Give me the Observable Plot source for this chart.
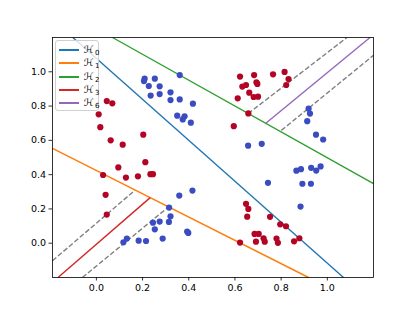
<!DOCTYPE html>
<html>
<head>
<meta charset="utf-8">
<script src="https://cdn.jsdelivr.net/npm/d3@7"></script>
<script src="https://cdn.jsdelivr.net/npm/@observablehq/plot@0.6"></script>
<style>
  html, body { margin: 0; padding: 0; background: #fff; }
  #wrap { position: relative; width: 415px; height: 311px; font-family: "DejaVu Sans", sans-serif; }
  #legend { position: absolute; left: 55px; top: 40px; width: 44px; height: 71px;
    border: 1px solid #d0d0d0; border-radius: 3px; background: rgba(255,255,255,0.8); box-sizing: border-box; }
  .entry { position: absolute; left: 0; height: 13px; width: 42px; }
  .entry .sw { position: absolute; left: 3px; top: 6px; width: 20px; height: 1.5px; }
  .entry .lb { position: absolute; left: 28px; top: 0px; line-height: 13px; font-family: "DejaVu Sans", sans-serif; font-size: 10px; color: #000; white-space: nowrap; }
  .entry .lb .s { font-size: 7px; position: relative; top: 2px; margin-left: 1px; }
</style>
</head>
<body>
<div id="wrap"></div>
<script>
// ---- data ----
const redX = [0.045,0.069,0.010,0.017,0.062,0.114,0.203,0.212,0.095,0.029,0.128,0.180,0.234,0.245,0.040,0.045,
  0.622,0.683,0.765,0.815,0.832,0.822,0.632,0.648,0.693,0.697,0.662,0.681,0.700,0.612,0.658,0.595,
  0.648,0.658,0.653,0.752,0.796,0.821,0.879,0.685,0.703,0.691,0.724,0.729,0.780,0.786,0.856,0.622];
const redY = [0.829,0.816,0.752,0.677,0.600,0.575,0.633,0.473,0.442,0.398,0.383,0.390,0.403,0.403,0.282,0.167,
  0.972,0.981,0.985,0.999,0.958,0.923,0.914,0.923,0.939,0.929,0.878,0.853,0.855,0.845,0.757,0.683,
  0.230,0.200,0.155,0.154,0.110,0.099,0.029,0.054,0.054,0.009,0.029,0.009,0.027,0.002,0.011,0.004];
const blueX = [0.209,0.206,0.253,0.361,0.227,0.274,0.235,0.274,0.321,0.321,0.361,0.418,0.350,0.382,0.374,0.409,
  0.117,0.132,0.183,0.215,0.287,0.253,0.245,0.274,0.314,0.321,0.315,0.359,0.416,0.393,0.398,
  0.919,0.925,0.913,0.951,0.982,0.657,0.716,
  0.743,0.866,0.886,0.930,0.952,0.971,0.892,0.929,0.884];
const blueY = [0.960,0.946,0.960,0.981,0.917,0.915,0.861,0.870,0.880,0.835,0.839,0.814,0.744,0.740,0.722,0.703,
  0.005,0.027,0.015,0.013,0.027,0.081,0.120,0.126,0.124,0.157,0.208,0.278,0.307,0.068,0.060,
  0.785,0.756,0.712,0.633,0.605,0.569,0.580,
  0.352,0.423,0.432,0.440,0.424,0.448,0.347,0.347,0.214];

// hyperplanes (segments in data units)
const lineNames = ["H0","H1","H2","H3","H6"];
const lineX1 = [-0.102, -0.19, 0.070, -0.166, 0.735];
const lineY1 = [1.2, 0.553, 1.2, -0.2, 0.701];
const lineX2 = [1.070, 0.919, 1.2, 0.233, 1.185];
const lineY2 = [-0.2, -0.2, 0.348, 0.266, 1.2];
const legendSubs = ["0","1","2","3","6"];

// margin (dashed) lines
const dashX1 = [-0.19, -0.0605, 0.657, 0.801];
const dashY1 = [-0.102, -0.2, 0.756, 0.658];
const dashX2 = [0.168, 0.314, 1.085, 1.2];
const dashY2 = [0.310, 0.2135, 1.2, 1.096];

const xTicks = [0, 0.2, 0.4, 0.6, 0.8, 1.0];
const yTicks = [0, 0.2, 0.4, 0.6, 0.8, 1.0];

// ---- styles ----
const lineColors = {H0:"#1f77b4", H1:"#ff7f0e", H2:"#2ca02c", H3:"#d62728", H6:"#9467bd"};
const RED = "#b40426", BLUE = "#3b4cc0";

const pts = [
  ...redX.map((x,i)=>({x, y: redY[i], c: RED})),
  ...blueX.map((x,i)=>({x, y: blueY[i], c: BLUE}))
];
const lines = lineNames.map((n,i)=>({n, x1: lineX1[i], y1: lineY1[i], x2: lineX2[i], y2: lineY2[i]}));
const dashes = dashX1.map((x1,i)=>({x1, y1: dashY1[i], x2: dashX2[i], y2: dashY2[i]}));

const chart = Plot.plot({
  width: 415, height: 311,
  marginLeft: 52, marginRight: 42, marginTop: 37, marginBottom: 34,
  style: { fontFamily: "DejaVu Sans, sans-serif", fontSize: "9.5px", color: "#000", background: "#fff" },
  x: { domain: [-0.19, 1.2] },
  y: { domain: [-0.2, 1.2] },
  marks: [
    Plot.link(dashes, { x1: "x1", y1: "y1", x2: "x2", y2: "y2", stroke: "#808080", strokeWidth: 1.4, strokeDasharray: "5,2.2" }),
    Plot.link(lines, { x1: "x1", y1: "y1", x2: "x2", y2: "y2", stroke: d => lineColors[d.n], strokeWidth: 1.4 }),
    Plot.dot(pts, { x: "x", y: "y", r: 3.1, fill: "c", stroke: null }),
    Plot.frame({ stroke: "#000", strokeWidth: 0.8 }),
    Plot.axisX({ ticks: xTicks, tickSize: 3.5, tickPadding: 3, tickFormat: d3.format(".1f"), label: null, strokeWidth: 0.8 }),
    Plot.axisY({ ticks: yTicks, tickSize: 3.5, tickPadding: 3, tickFormat: d3.format(".1f"), label: null, strokeWidth: 0.8 })
  ]
});

const wrap = document.getElementById("wrap");
wrap.appendChild(chart);

// legend
const leg = document.createElement("div");
leg.id = "legend";
lineNames.forEach((n,i) => {
  const e = document.createElement("div");
  e.className = "entry";
  e.style.top = Math.round(2 + i * 13.3) + "px";
  const sw = document.createElement("div");
  sw.className = "sw";
  sw.style.background = lineColors[n];
  const lb = document.createElement("div");
  lb.className = "lb";
  lb.innerHTML = "ℋ<span class=\"s\">" + legendSubs[i] + "</span>";
  e.appendChild(sw); e.appendChild(lb);
  leg.appendChild(e);
});
wrap.appendChild(leg);
</script>
</body>
</html>
